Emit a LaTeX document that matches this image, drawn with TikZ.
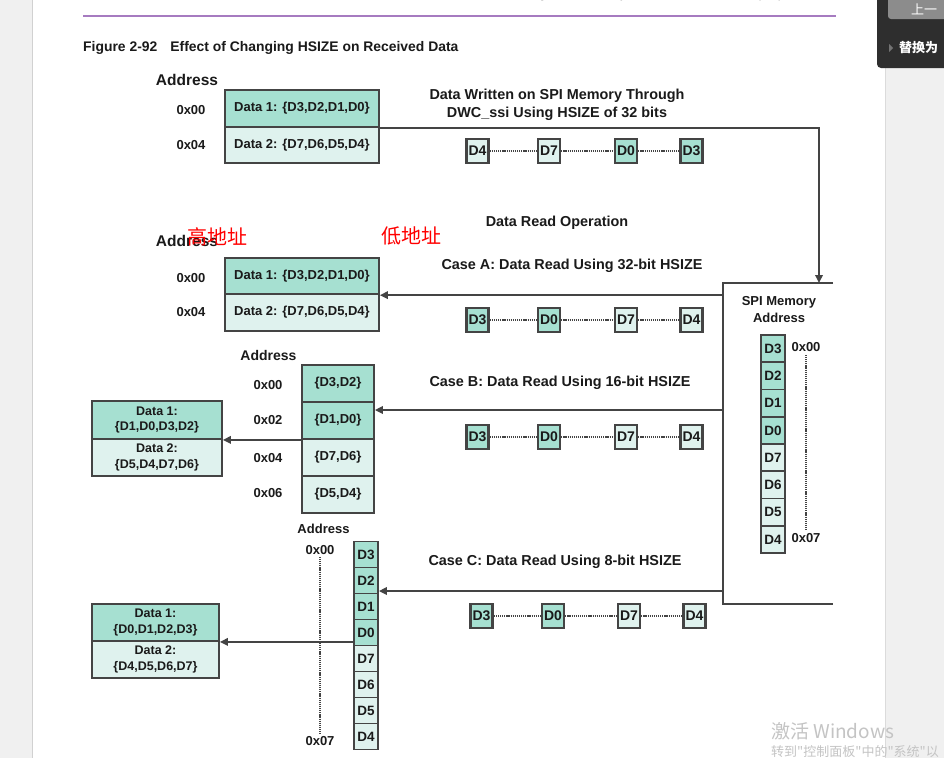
\documentclass[tikz,border=0pt]{standalone}
\usepackage{fontspec}
\setmainfont{Liberation Sans}
\newfontfamily\cjk{Noto Sans CJK SC}
\usetikzlibrary{arrows.meta}
\definecolor{dk}{HTML}{A6E0D1}
\definecolor{lt}{HTML}{DFF2EE}
\definecolor{bd}{HTML}{444444}
\definecolor{pg}{HTML}{F0F0F0}
\definecolor{txt}{HTML}{1A1A1A}
\definecolor{purp}{HTML}{A67BC0}
\definecolor{wm}{HTML}{C4C4C4}
\definecolor{pop}{HTML}{2E2E2E}
\definecolor{btn}{HTML}{8C8C8C}
\tikzset{
  fs/.style={font=\fontsize{13}{15}\selectfont\bfseries, text=txt},
  hd/.style={font=\fontsize{14.4}{18}\selectfont\bfseries, text=txt},
  cell/.style={draw=bd, line width=1.8pt, inner sep=0pt, fs},
  dkf/.style={fill=dk},
  ltf/.style={fill=lt},
  wide/.style={cell, minimum width=154pt, minimum height=36.5pt},
  bcell/.style={cell, minimum width=72pt, minimum height=37pt},
  ncell/.style={cell, minimum width=24pt, font=\fontsize{13.5}{15}\selectfont\bfseries},
  twol/.style={cell, align=center, font=\fontsize{12.5}{15.5}\selectfont\bfseries},
  sbox/.style={draw=bd, line width=2.4pt, minimum width=22pt, minimum height=24pt, inner sep=0pt, font=\fontsize{14}{15}\selectfont\bfseries, text=txt},
  arr/.style={draw=bd, line width=1.8pt, -{Triangle[length=8pt,width=7.5pt]}},
  dots/.style={draw=bd, line width=1.5pt, dash pattern=on 1.2pt off 0.9pt},
  vdots/.style={draw=bd, line width=2.4pt, dash pattern=on 1.2pt off 0.9pt},
  lbl/.style={fs, inner sep=0pt},
}
\begin{document}
\begin{tikzpicture}[x=1pt,y=-1pt]
\useasboundingbox (0,0) rectangle (944,758);
% page background
\fill[pg] (0,0) rectangle (944,758);
\fill[white] (32,0) rectangle (885,758);
\draw[color=black!18, line width=0.8pt] (32,0) -- (32,758);
\draw[color=black!14, line width=0.8pt] (885,0) -- (885,758);
% header (cut off at the top, as in the screenshot)
\node[anchor=west, font=\fontsize{11}{13}\selectfont, text=black!70] (hl) at (83,-4) {Architecture};
\node[anchor=east, font=\fontsize{11}{13}\selectfont, text=black!70] (hr) at (836,-4) {DesignWare Cores Synchronous Serial Interface (SSI) Databook};
\draw[purp, line width=2pt] (83,16) -- (836,16);
% title
\node[anchor=west, font=\fontsize{13.9}{16}\selectfont\bfseries, text=txt, inner sep=0pt] (title) at (83,48) {Figure 2-92\hspace{13pt}Effect of Changing HSIZE on Received Data};

% ---------- top: written data ----------
\node[lbl, font=\fontsize{15.5}{18}\selectfont\bfseries] (addr1) at (187,80) {Address};
\node[lbl] (t00) at (191,110) {0x00};
\node[lbl] (t04) at (191,145) {0x04};
\node[wide,dkf] (t1) at (302,108.5) {Data 1: \{D3,D2,D1,D0\}};
\node[wide,ltf] (t2) at (302,145) {Data 2: \{D7,D6,D5,D4\}};
\node[hd, align=center] (wtxt) at (557,105) {Data Written on SPI Memory Through\\DWC\_ssi Using HSIZE of 32 bits};
\node[sbox,ltf] (w1) at (477.5,151) {D4};
\node[sbox,ltf] (w2) at (549,151) {D7};
\node[sbox,dkf] (w3) at (626,151) {D0};
\node[sbox,dkf] (w4) at (691.5,151) {D3};
\draw[dots] (w1) -- (w2);
\draw[dots] (w2) -- (w3);
\draw[dots] (w3) -- (w4);

% ---------- SPI memory ----------
\node[minimum width=110pt, minimum height=321pt, inner sep=0pt] (spi) at (778,443.5) {};
\draw[bd, line width=1.8pt] (spi.north east) -- (spi.north west) -- (spi.south west) -- (spi.south east);
\coordinate (win) at (819,283);
\draw[arr] (t1.south east) -| (win);
\node[fs, align=center, font=\fontsize{13}{17}\selectfont\bfseries] (spit) at (779,310) {SPI Memory\\Address};
\foreach \t/\f [count=\i from 0] in {D3/dkf,D2/dkf,D1/dkf,D0/dkf,D7/ltf,D6/ltf,D5/ltf,D4/ltf}{
  \node[ncell,\f, minimum height=27.25pt] (s\i) at (773,{348.6+27.25*\i}) {\t};
}
\node[lbl] (s00) at (806,347) {0x00};
\node[lbl] (s07) at (806,538) {0x07};
\draw[vdots] ([yshift=-3pt]s00.south) -- ([yshift=3pt]s07.north);

% ---------- Data read ----------
\node[hd] (rop) at (557,223) {Data Read Operation};
\node[lbl, font=\fontsize{15.5}{18}\selectfont\bfseries] (addr2) at (187,241) {Address};
\node[text=red, font=\cjk\fontsize{20}{22}\selectfont, inner sep=0pt] (hi) at (217,237) {高地址};
\node[text=red, font=\cjk\fontsize{20}{22}\selectfont, inner sep=0pt] (lo) at (411,236) {低地址};

% ---------- Case A ----------
\node[hd] (ca) at (572,266) {Case A: Data Read Using 32-bit HSIZE};
\node[lbl] (a00) at (191,278) {0x00};
\node[lbl] (a04) at (191,312) {0x04};
\node[wide,dkf] (a1) at (302,276) {Data 1: \{D3,D2,D1,D0\}};
\node[wide,ltf] (a2) at (302,312.5) {Data 2: \{D7,D6,D5,D4\}};
\draw[arr] (spi.west |- a1.south east) -- (a1.south east);
\node[sbox,dkf] (ax1) at (477.5,320) {D3};
\node[sbox,dkf] (ax2) at (549,320) {D0};
\node[sbox,ltf] (ax3) at (626,320) {D7};
\node[sbox,ltf] (ax4) at (691.5,320) {D4};
\draw[dots] (ax1) -- (ax2);
\draw[dots] (ax2) -- (ax3);
\draw[dots] (ax3) -- (ax4);

% ---------- Case B ----------
\node[hd] (cb) at (560,383) {Case B: Data Read Using 16-bit HSIZE};
\node[lbl, font=\fontsize{14}{16}\selectfont\bfseries] (addr3) at (268.5,355) {Address};
\node[lbl] (b00) at (268,385) {0x00};
\node[lbl] (b02) at (268,420) {0x02};
\node[lbl] (b04) at (268,458) {0x04};
\node[lbl] (b06) at (268,493) {0x06};
\node[bcell,dkf] (bc1) at (338,383.5) {\{D3,D2\}};
\node[bcell,dkf] (bc2) at (338,420.5) {\{D1,D0\}};
\node[bcell,ltf] (bc3) at (338,457.5) {\{D7,D6\}};
\node[bcell,ltf] (bc4) at (338,494.5) {\{D5,D4\}};
\node[twol,dkf, minimum width=130pt, minimum height=38pt] (bd1) at (157,420) {Data 1:\\\{D1,D0,D3,D2\}};
\node[twol,ltf, minimum width=130pt, minimum height=37pt] (bd2) at (157,457.5) {Data 2:\\\{D5,D4,D7,D6\}};
\coordinate (bin) at (723,410);
\draw[arr] (bin) -- (bin -| bc2.east);
\draw[arr] (bc2.south west) -- (bd1.south east);
\node[sbox,dkf] (bx1) at (477.5,437) {D3};
\node[sbox,dkf] (bx2) at (549,437) {D0};
\node[sbox,ltf] (bx3) at (626,437) {D7};
\node[sbox,ltf] (bx4) at (691.5,437) {D4};
\draw[dots] (bx1) -- (bx2);
\draw[dots] (bx2) -- (bx3);
\draw[dots] (bx3) -- (bx4);

% ---------- Case C ----------
\node[hd] (cc) at (555,562) {Case C: Data Read Using 8-bit HSIZE};
\node[lbl] (addr4) at (323.5,529) {Address};
\node[lbl] (c00) at (320,550) {0x00};
\node[lbl] (c07) at (320,741) {0x07};
\draw[vdots] ([yshift=-2pt]c00.south) -- ([yshift=2pt]c07.north);
\foreach \t/\f [count=\i from 0] in {D3/dkf,D2/dkf,D1/dkf,D0/dkf,D7/ltf,D6/ltf,D5/ltf,D4/ltf}{
  \node[ncell,\f, minimum height=26pt] (cc\i) at (366,{554.5+26*\i}) {\t};
}
\node[twol,dkf, minimum width=127pt, minimum height=37pt] (cd1) at (155.5,622.5) {Data 1:\\\{D0,D1,D2,D3\}};
\node[twol,ltf, minimum width=127pt, minimum height=37pt] (cd2) at (155.5,659.5) {Data 2:\\\{D4,D5,D6,D7\}};
\coordinate (cin) at (723,591);
\draw[arr] (cin) -- (cin -| cc2.east);
\draw[arr] (cc3.west |- cd1.south east) -- (cd1.south east);
\node[sbox,dkf] (cx1) at (481.5,616) {D3};
\node[sbox,dkf] (cx2) at (553,616) {D0};
\node[sbox,ltf] (cx3) at (629,616) {D7};
\node[sbox,ltf] (cx4) at (694.5,616) {D4};
\draw[dots] (cx1) -- (cx2);
\draw[dots] (cx2) -- (cx3);
\draw[dots] (cx3) -- (cx4);

% ---------- viewer overlay ----------
\fill[pop, rounded corners=4pt] (877,-10) rectangle (960,68);
\fill[btn, rounded corners=3pt] (888,-8) rectangle (960,19);
\node[anchor=west, text=white, font=\cjk\fontsize{13}{15}\selectfont, inner sep=0pt] (prev) at (911,9) {上一};
\fill[black!55] (889,44) -- (893,48) -- (889,52) -- cycle;
\node[anchor=west, text=white, font=\cjk\fontsize{13}{15}\selectfont\bfseries, inner sep=0pt] (repl) at (899,48) {替换为};
% watermark
\node[anchor=west, text=wm, font=\cjk\fontsize{19}{21}\selectfont, inner sep=0pt] (wm1) at (771,731) {激活 Windows};
\node[anchor=west, text=wm, font=\cjk\fontsize{13}{15}\selectfont, inner sep=0pt] (wm2) at (771,752) {转到"控制面板"中的"系统"以};
\end{tikzpicture}
\end{document}
